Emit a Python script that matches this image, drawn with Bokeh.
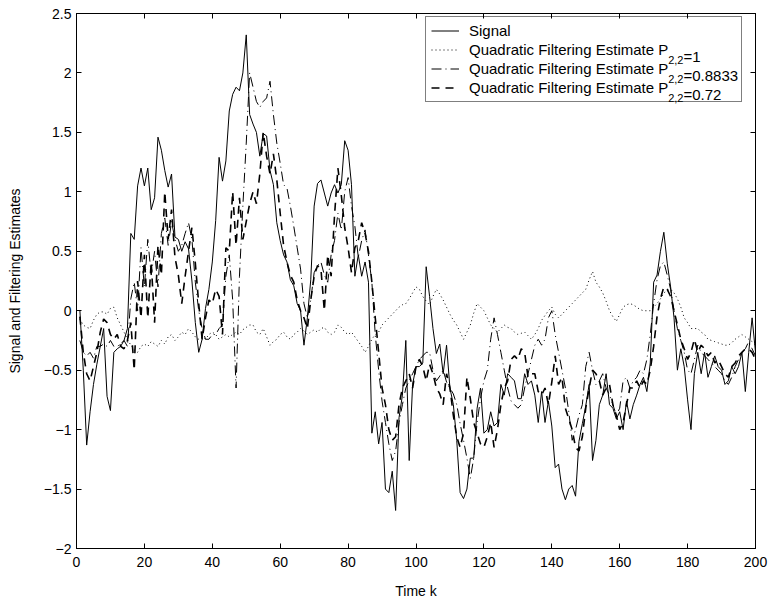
from bokeh.plotting import figure
from bokeh.models import (Range1d, LinearAxis, FixedTicker, Legend, LegendItem, Label)
from bokeh.embed import file_html
from bokeh.resources import INLINE

# ---------------- data ----------------
time_k = list(range(1, 201))

signal = [
    0.0, -0.5, -1.13, -0.85, -0.62, -0.45, -0.3, -0.15, -0.72, -0.84,
    -0.35, -0.32, -0.3, -0.25, -0.15, 0.65, 0.6, 1.05, 1.2, 1.05,
    1.2, 0.85, 0.95, 1.46, 1.35, 1.18, 1.04, 1.15, 0.62, 0.6,
    0.5, 0.58, 0.52, 0.25, -0.1, -0.35, -0.24, 0.02, 0.18, 0.41,
    0.76, 1.29, 1.09, 1.26, 1.68, 1.82, 1.88, 1.85, 2.0, 2.32,
    1.65, 1.57, 1.5, 1.3, 1.49, 1.47, 1.18, 1.06, 0.74, 0.59,
    0.47, 0.41, 0.26, 0.21, 0.06, 0.0, -0.29, -0.06, 0.26, 0.88,
    1.07, 1.1, 0.99, 0.88, 0.99, 1.06, 0.99, 1.06, 1.43, 1.35,
    1.06, 0.29, 0.47, 0.29, 0.41, 0.24, -1.03, -0.85, -1.12, -0.94,
    -1.5, -1.53, -1.35, -1.68, -0.9, -0.71, -0.25, -1.26, -0.62, -0.47,
    -0.47, -0.44, 0.37, 0.12, -0.15, -0.36, -0.28, -0.53, -0.29, -0.65,
    -0.79, -1.09, -1.53, -1.58, -1.5, -1.24, -1.24, -0.82, -0.65, -1.03,
    -1.0, -0.85, -0.97, -0.94, -0.62, -0.71, -0.53, -0.56, -0.59, -0.74,
    -0.74, -0.53, -0.62, -0.59, -0.71, -0.94, -0.68, -0.94, -0.76, -0.97,
    -1.32, -1.29, -1.5, -1.59, -1.5, -1.47, -1.56, -1.1, -0.95, -0.8,
    -0.62, -1.26, -1.09, -0.79, -0.71, -0.53, -0.79, -0.82, -0.91, -0.85,
    -1.0, -0.76, -0.91, -0.79, -0.71, -0.62, -0.56, -0.68, -0.44, 0.24,
    0.3, 0.5, 0.66, 0.4, 0.2, -0.06, -0.5, -0.32, -0.47, -0.75,
    -1.0, -0.53, -0.35, -0.53, -0.35, -0.56, -0.47, -0.38, -0.47, -0.5,
    -0.62, -0.59, -0.47, -0.53, -0.47, -0.35, -0.68, -0.35, -0.06, -0.35,
]

est_p1 = [
    -0.07, -0.12, -0.14, -0.15, -0.08, -0.03, -0.01, -0.01, -0.03, 0.02,
    0.03, -0.06, -0.12, -0.18, -0.24, -0.29, -0.33, -0.35, -0.3, -0.28,
    -0.3, -0.26, -0.28, -0.3, -0.25, -0.28, -0.22, -0.2, -0.25, -0.22,
    -0.18, -0.2, -0.15, -0.18, -0.22, -0.24, -0.22, -0.24, -0.2, -0.18,
    -0.2, -0.24, -0.22, -0.2, -0.22, -0.2, -0.18, -0.2, -0.16, -0.14,
    -0.12, -0.12, -0.18, -0.2, -0.15, -0.22, -0.29, -0.26, -0.24, -0.2,
    -0.18, -0.22, -0.24, -0.2, -0.18, -0.15, -0.17, -0.2, -0.18, -0.16,
    -0.18, -0.15, -0.14, -0.18, -0.2, -0.18, -0.12, -0.14, -0.18, -0.2,
    -0.18, -0.22, -0.26, -0.3, -0.35, -0.3, -0.24, -0.2, -0.18, -0.12,
    -0.09, -0.06, -0.03, 0.0, 0.03, 0.05, 0.06, 0.1, 0.15, 0.2,
    0.18, 0.12, 0.08, 0.05, 0.12, 0.18, 0.14, 0.09, 0.03, -0.03,
    -0.08, -0.12, -0.18, -0.24, -0.18, -0.12, -0.02, 0.06, 0.03, 0.0,
    -0.06, -0.12, -0.15, -0.18, -0.15, -0.12, -0.14, -0.15, -0.18, -0.2,
    -0.19, -0.18, -0.21, -0.24, -0.2, -0.15, -0.08, -0.04, 0.0, 0.03,
    -0.03, -0.06, -0.03, 0.0, 0.03, 0.06, 0.09, 0.12, 0.15, 0.18,
    0.26, 0.33, 0.24, 0.2, 0.15, 0.08, 0.0, -0.05, -0.09, -0.03,
    0.03, 0.05, 0.06, 0.05, 0.03, 0.01, 0.0, 0.0, 0.0, 0.03,
    0.06, 0.1, 0.15, 0.17, 0.18, 0.15, 0.1, 0.03, -0.06, -0.1,
    -0.15, -0.15, -0.15, -0.18, -0.2, -0.24, -0.25, -0.26, -0.27, -0.28,
    -0.29, -0.29, -0.27, -0.24, -0.22, -0.2, -0.22, -0.24, -0.26, -0.29,
]

est_p08833 = [
    -0.25, -0.35, -0.38, -0.35, -0.4, -0.3, -0.3, -0.28, -0.3, -0.25,
    -0.3, -0.3, -0.28, -0.25, -0.3, 0.1, 0.24, 0.0, 0.53, 0.2,
    0.6, 0.3, 0.5, 0.2, 0.65, 0.78, 0.55, 0.75, 0.6, 0.5,
    0.55, 0.65, 0.74, 0.6, 0.24, 0.0, -0.15, -0.24, -0.24, -0.2,
    -0.2, -0.15, -0.12, 0.29, 0.47, 0.09, -0.65, 0.29, 0.88, 1.41,
    2.0, 1.88, 1.76, 1.71, 1.76, 1.79, 1.93, 1.65, 1.41, 1.24,
    1.06, 1.03, 0.88, 0.71, 0.53, 0.35, 0.06, -0.06, 0.09, 0.32,
    0.38, 0.41, 0.3, 0.24, 0.47, 0.59, 0.82, 0.68, 1.0, 1.12,
    0.88, 0.71, 0.45, 0.59, 0.68, 0.47, 0.24, -0.2, -0.5, -0.76,
    -0.94, -1.12, -1.26, -1.18, -0.94, -0.79, -0.65, -0.59, -0.53, -0.47,
    -0.41, -0.38, -0.35, -0.35, -0.5, -0.59, -0.55, -0.5, -0.6, -0.65,
    -0.7, -0.79, -0.95, -1.09, -1.24, -1.41, -1.24, -0.94, -0.74, -0.59,
    -0.5, -0.24, -0.06, -0.2, -0.35, -0.5, -0.65, -0.76, -0.79, -0.82,
    -0.79, -0.65, -0.53, -0.41, -0.29, -0.24, -0.29, -0.24, -0.06, 0.0,
    -0.2, -0.35, -0.5, -0.65, -0.85, -1.09, -1.0, -0.88, -0.79, -0.47,
    -0.35, -0.5, -0.62, -0.59, -0.53, -0.65, -0.71, -0.79, -0.88, -0.82,
    -0.59, -0.56, -0.65, -0.59, -0.56, -0.5, -0.53, -0.41, -0.2, 0.06,
    0.26, 0.38, 0.41, 0.3, 0.18, 0.0, -0.15, -0.25, -0.35, -0.5,
    -0.53, -0.41, -0.29, -0.35, -0.38, -0.41, -0.44, -0.47, -0.5, -0.53,
    -0.59, -0.62, -0.56, -0.47, -0.41, -0.35, -0.32, -0.26, -0.32, -0.38,
]

est_p072 = [
    -0.05, -0.35, -0.53, -0.59, -0.47, -0.35, -0.18, -0.07, -0.1, -0.2,
    -0.24, -0.2, -0.3, -0.32, -0.25, -0.1, -0.5, 0.25, -0.06, 0.47,
    -0.06, 0.41, -0.1, 0.55, 0.3, 1.0, 0.6, 0.85, 0.45, 0.3,
    0.06, 0.29, 0.5, 0.7, 0.4, 0.06, -0.24, -0.06, 0.09, 0.06,
    0.18, 0.12, -0.2, 0.53, 0.5, 1.0, 0.55, 0.95, 0.6, 0.75,
    0.9, 1.0, 0.9, 1.15, 1.5, 1.3, 1.15, 1.32, 1.1, 0.82,
    0.55, 0.41, 0.3, 0.24, 0.09, 0.0, -0.06, -0.15, 0.09, 0.29,
    0.38, 0.35, 0.0, 0.47, 0.29, 0.8, 1.2, 0.97, 0.7, 0.53,
    0.32, 0.53, 0.59, 0.74, 0.65, 0.5, 0.24, -0.06, -0.35, -0.65,
    -0.79, -1.0, -1.09, -1.06, -0.79, -0.65, -0.59, -0.53, -0.65, -0.47,
    -0.41, -0.47, -0.59, -0.45, -0.53, -0.65, -0.7, -0.79, -0.53, -0.65,
    -0.88, -1.06, -1.15, -1.03, -0.56, -0.74, -0.94, -1.03, -1.12, -1.15,
    -1.06, -0.94, -1.15, -1.0, -0.79, -0.65, -0.59, -0.41, -0.38, -0.41,
    -0.32, -0.35, -0.56, -0.53, -0.53, -0.68, -0.71, -0.65, -0.79, -0.6,
    -0.38, -0.62, -0.56, -0.82, -0.91, -1.0, -1.15, -1.18, -1.06, -0.82,
    -0.65, -0.5, -0.53, -0.59, -0.71, -0.65, -0.62, -0.79, -0.88, -1.0,
    -0.94, -0.79, -0.65, -0.65, -0.59, -0.65, -0.59, -0.62, -0.5, -0.3,
    -0.05, 0.1, 0.2, 0.18, 0.12, 0.0, -0.12, -0.24, -0.32, -0.41,
    -0.35, -0.24, -0.35, -0.29, -0.32, -0.38, -0.35, -0.44, -0.41, -0.47,
    -0.53, -0.56, -0.47, -0.44, -0.38, -0.35, -0.32, -0.32, -0.35, -0.41,
]

x_ticks = [0, 20, 40, 60, 80, 100, 120, 140, 160, 180, 200]
y_ticks = [-2, -1.5, -1, -0.5, 0, 0.5, 1, 1.5, 2, 2.5]
y_tick_labels = ["\u22122", "\u22121.5", "\u22121", "\u22120.5", "0", "0.5", "1", "1.5", "2", "2.5"]

legend_main = ["Signal",
               "Quadratic Filtering Estimate P",
               "Quadratic Filtering Estimate P",
               "Quadratic Filtering Estimate P"]
legend_sub = ["", "2,2", "2,2", "2,2"]
legend_tail = ["", "=1", "=0.8833", "=0.72"]

# ---------------- figure ----------------
FONT = "Liberation Sans"
W, H = 768, 603
p = figure(width=W, height=H, output_backend="svg", toolbar_location=None,
           x_range=Range1d(0, 200), y_range=Range1d(-2, 2.5),
           min_border_left=76, min_border_right=13, min_border_top=13,
           min_border_bottom=55, x_axis_location=None, y_axis_location=None)
p.grid.visible = False
p.outline_line_color = "black"
p.outline_line_width = 1
p.background_fill_color = "white"
p.border_fill_color = "white"


def style_axis(ax, labels=True):
    ax.axis_line_color = "black"
    ax.major_tick_line_color = "black"
    ax.major_tick_in = 5
    ax.major_tick_out = 0
    ax.minor_tick_line_color = None
    ax.major_label_text_font = FONT
    ax.major_label_text_color = "black"
    ax.axis_label_text_font = FONT
    ax.axis_label_text_font_style = "normal"
    ax.axis_label_text_font_size = "14px"
    ax.axis_label_text_color = "black"
    if labels:
        ax.major_label_text_font_size = "14px"
        ax.major_label_standoff = 6
    else:
        ax.major_label_text_font_size = "0px"
        ax.major_label_standoff = 0


xb = LinearAxis(ticker=FixedTicker(ticks=x_ticks), axis_label="Time k")
style_axis(xb)
xb.major_label_standoff = 8
xb.axis_label_standoff = 13
p.add_layout(xb, "below")

yl = LinearAxis(ticker=FixedTicker(ticks=y_ticks), axis_label="Signal and Filtering Estimates")
style_axis(yl)
yl.major_label_overrides = {t: s for t, s in zip(y_ticks, y_tick_labels)}
yl.major_label_standoff = 5
yl.axis_label_standoff = 18
p.add_layout(yl, "left")

xt = LinearAxis(ticker=FixedTicker(ticks=x_ticks))
style_axis(xt, labels=False)
xt.major_label_overrides = {t: "" for t in x_ticks}
p.add_layout(xt, "above")

yr = LinearAxis(ticker=FixedTicker(ticks=y_ticks))
style_axis(yr, labels=False)
yr.major_label_overrides = {t: "" for t in y_ticks}
p.add_layout(yr, "right")

r0 = p.line(time_k, signal, line_color="black", line_width=1)
r1 = p.line(time_k, est_p1, line_color="black", line_width=1, line_dash="1 3")
r2 = p.line(time_k, est_p08833, line_color="black", line_width=1, line_dash="10 4 1 4")
r3 = p.line(time_k, est_p072, line_color="black", line_width=1.6, line_dash="8 6")

# ---------------- legend ----------------
LEG_PAD, GLYPH_W, ROW_H, ROW_SP, STANDOFF, LABEL_W = 5, 28, 17, 2, 10, 267
LEG_X, LEG_Y = 349, 446   # legend box bottom-left, relative to the frame's bottom-left
legend = Legend(
    items=[LegendItem(label=lab, renderers=[r]) for lab, r in zip(legend_main, [r0, r1, r2, r3])],
    location=(LEG_X, LEG_Y), padding=LEG_PAD, spacing=ROW_SP, margin=0,
    glyph_width=GLYPH_W, glyph_height=ROW_H, label_height=ROW_H, label_width=LABEL_W,
    label_standoff=STANDOFF, label_text_font=FONT, label_text_font_size="15px",
    label_text_color="black",
    border_line_color="black", border_line_width=1,
    background_fill_color="white", background_fill_alpha=0.0,
)
p.add_layout(legend)

main_w = 199.2  # width of "Quadratic Filtering Estimate P" at 15px
sub_w = 15.3
leg_h = 4 * ROW_H + 3 * ROW_SP + 2 * LEG_PAD
for i in range(1, 4):
    row_center = LEG_Y + leg_h - LEG_PAD - ROW_H / 2 - i * (ROW_H + ROW_SP)
    base = row_center - 5
    x0 = LEG_X + LEG_PAD + GLYPH_W + STANDOFF + main_w
    p.add_layout(Label(x=x0 + 0.5, y=base - 4, x_units="screen", y_units="screen",
                       text=legend_sub[i], text_font=FONT, text_font_size="11px",
                       text_color="black", text_baseline="alphabetic", text_align="left",
                       level="overlay"))
    p.add_layout(Label(x=x0 + 0.5 + sub_w, y=base, x_units="screen", y_units="screen",
                       text=legend_tail[i], text_font=FONT, text_font_size="15px",
                       text_color="black", text_baseline="alphabetic", text_align="left",
                       level="overlay"))

open("out.html", "w").write(file_html(p, INLINE))
